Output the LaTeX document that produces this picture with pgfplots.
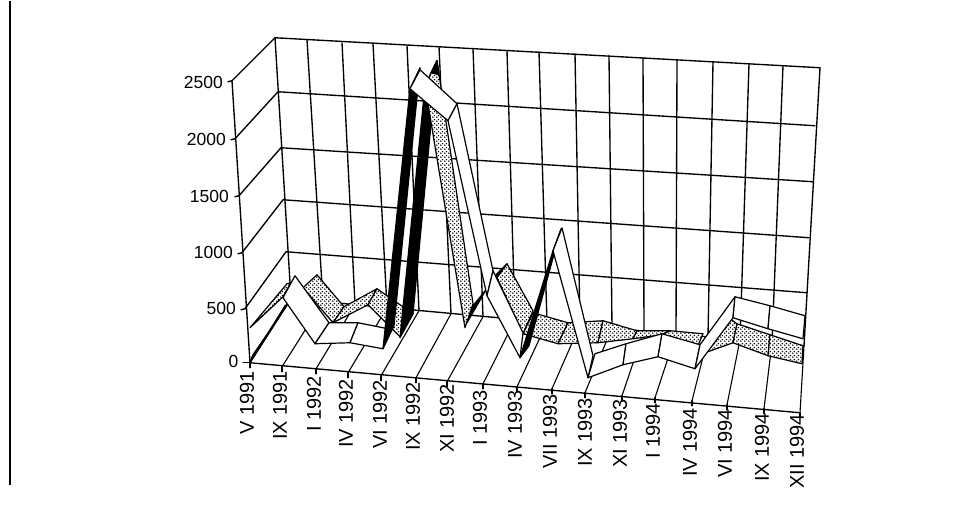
\documentclass[border=0pt]{standalone}
\usepackage{pgfplots}
\pgfplotsset{compat=1.18}
\usetikzlibrary{patterns}
\usepackage{fontspec}
\setmainfont{Liberation Sans}

% staggered dot screen for the rear ribbon
\pgfdeclarepatternformonly{ribbondots}{\pgfpointorigin}{\pgfqpoint{4pt}{4pt}}{\pgfqpoint{4pt}{4pt}}{%
  \pgfpathcircle{\pgfqpoint{1pt}{1pt}}{0.95pt}%
  \pgfpathcircle{\pgfqpoint{3pt}{3pt}}{0.95pt}%
  \pgfusepath{fill}}

\pgfplotsset{
  gridln/.style={black,line width=1.35pt,line cap=round},
  floorln/.style={black,line width=1.1pt,line cap=round},
  edge/.style={black,line width=1.2pt,line join=round},
}
% straight rule of the box
\newcommand{\gl}[2]{\addplot[gridln] coordinates {(#1) (#2)};}
\newcommand{\fl}[2]{\addplot[floorln] coordinates {(#1) (#2)};}
% ribbon faces: white top, black underside, dotted top
\newcommand{\wq}[1]{\addplot[edge,fill=white] coordinates {#1} -- cycle;}
\newcommand{\bq}[1]{\addplot[edge,fill=black] coordinates {#1} -- cycle;}
\newcommand{\dq}[1]{\addplot[draw=none,fill=white,forget plot] coordinates {#1} -- cycle;
  \addplot[edge,pattern=ribbondots] coordinates {#1} -- cycle;}
\newcommand{\xl}[3]{\node[rotate=90,anchor=east,inner sep=0pt,font=\fontsize{20}{20}\selectfont] at (axis cs:#1,#2) {#3};}
\newcommand{\yl}[3]{\node[anchor=east,inner sep=0pt,font=\fontsize{17.5}{18}\selectfont] at (axis cs:#1,#2) {#3};}

\begin{document}
\begin{tikzpicture}
\begin{axis}[
  width=976pt,height=521pt,scale only axis,
  xmin=0,xmax=976,ymin=0,ymax=521,y dir=reverse,
  hide axis,clip=false,
]
\addplot[draw=none] coordinates {(0,0) (976,521)};
% page rule on the left
\addplot[black,line width=1.5pt] coordinates {(10,0) (10,484)};

% side wall
\gl{232,80}{250,362}
\gl{232,80}{275,37}
\gl{235,138}{278,91}
\gl{239,195}{281,147}
\gl{242,252}{283,199}
\gl{245,308}{286,251}
\fl{250,362}{291,298}
% value ticks
\gl{228,81}{232,80}
\gl{231,139}{235,138}
\gl{235,196}{239,195}
\gl{238,253}{242,252}
\gl{241,309}{245,308}
\gl{243,362}{250,362}

% back wall rows
\gl{275,37}{820,67}
\gl{278,91}{815,125}
\gl{281,147}{813,181}
\gl{283,199}{809,237}
\gl{286,251}{807,292}
\gl{291,298}{804,345}
% back wall columns
\gl{275,37}{291,298}
\gl{307,39}{323,301}
\gl{342,42}{355,304}
\gl{373,43}{387,307}
\gl{407,45}{419,310}
\gl{439,46}{451,313}
\gl{473,48}{483,316}
\gl{507,50}{515,319}
\gl{539,51}{547,322}
\gl{575,53}{580,324}
\gl{609,55}{612,327}
\gl{643,57}{644,330}
\gl{677,59}{676,333}
\gl{713,61}{708,336}
\gl{749,63}{740,339}
\gl{783,65}{772,342}
\gl{820,67}{804,345}

% floor
\fl{250,362}{291,298}
\fl{282,366}{323,301}
\fl{316,368}{355,304}
\fl{348,372}{387,307}
\fl{381,375}{419,310}
\fl{416,377}{451,313}
\fl{447,381}{483,316}
\fl{483,383}{515,319}
\fl{517,386}{547,322}
\fl{552,388}{580,324}
\fl{585,392}{612,327}
\fl{622,395}{644,330}
\fl{655,397}{676,333}
\fl{692,400}{708,336}
\fl{727,404}{740,339}
\fl{764,408}{772,342}
\fl{800,412}{804,345}
\gl{250,362}{800,412}
% date ticks
\gl{250,362}{250,367}
\gl{282,366}{282,371}
\gl{316,368}{316,373}
\gl{348,372}{348,377}
\gl{381,375}{381,380}
\gl{416,377}{416,382}
\gl{447,381}{447,386}
\gl{483,383}{483,388}
\gl{517,386}{517,391}
\gl{552,388}{552,393}
\gl{585,392}{585,397}
\gl{622,395}{622,400}
\gl{655,397}{655,402}
\gl{692,400}{692,405}
\gl{727,404}{727,409}
\gl{764,408}{764,413}
\gl{800,412}{800,417}

% rear ribbon
\dq{(250,327) (287,283) (291,282) (283,296)}
\dq{(303,287) (317,274) (344,306) (333,322)}
\dq{(333,322) (344,306) (377,288) (368,304)}
\dq{(368,304) (377,288) (413,313) (400,336)}
\bq{(400,337) (413,313) (437,60) (425,85)}
\dq{(425,85) (437,60) (473,303) (465,327)}
\bq{(437,60) (431,72) (439,74)}
\bq{(467,322) (473,305) (507,263) (493,277)}
\dq{(497,277) (507,263) (533,310) (523,333)}
\dq{(523,333) (533,312) (568,322) (558,343)}
\dq{(558,343) (568,322) (603,320) (598,342)}
\dq{(598,342) (603,320) (637,330) (633,338)}
\dq{(633,338) (637,330) (670,330) (662,334)}
\dq{(662,334) (670,330) (703,333) (698,345)}
\dq{(705,352) (703,340) (730,318) (737,323) (733,342)}
\dq{(733,342) (737,323) (770,334) (768,355)}
\dq{(768,355) (770,334) (803,345) (802,363)}

% front ribbon
\bq{(250,361) (253,354) (288,303) (285,305)}
\wq{(283,297) (295,275) (329,322) (315,343)}
\wq{(315,343) (329,322) (358,322) (350,342)}
\wq{(350,342) (358,322) (388,328) (383,348)}
\bq{(383,348) (394,325) (420,67) (410,88)}
\wq{(410,88) (420,69) (457,103) (448,120)}
\wq{(448,120) (457,103) (493,270) (487,295)}
\wq{(487,295) (493,270) (523,332) (520,357)}
\bq{(520,357) (529,345) (561,228) (553,250)}
\wq{(553,250) (562,227) (593,355) (588,377)}
\wq{(588,377) (595,353) (626,343) (623,364)}
\wq{(623,364) (626,343) (662,333) (658,356)}
\wq{(658,356) (662,333) (700,344) (695,368)}
\wq{(695,368) (700,344) (735,296) (733,317)}
\wq{(733,317) (735,296) (770,305) (768,328)}
\wq{(768,328) (770,305) (805,315) (803,338)}

% value labels
\yl{223}{82}{2500}
\yl{226}{139}{2000}
\yl{229}{196}{1500}
\yl{233}{252}{1000}
\yl{236}{308}{500}
\yl{238.5}{361}{0}
% date labels
\xl{247}{370}{V 1991}
\xl{280}{370}{IX 1991}
\xl{314}{375}{I 1992}
\xl{346}{378}{IV 1992}
\xl{380}{379}{VI 1992}
\xl{413}{381}{IX 1992}
\xl{447}{383}{XI 1992}
\xl{480}{389}{I 1993}
\xl{515}{389}{IV 1993}
\xl{550}{393}{VII 1993}
\xl{585}{397}{IX 1993}
\xl{620}{398}{XI 1993}
\xl{653}{402}{I 1994}
\xl{690}{407}{IV 1994}
\xl{725}{408}{VI 1994}
\xl{762}{412}{IX 1994}
\xl{797}{413}{XII 1994}
\end{axis}
\end{tikzpicture}
\end{document}
